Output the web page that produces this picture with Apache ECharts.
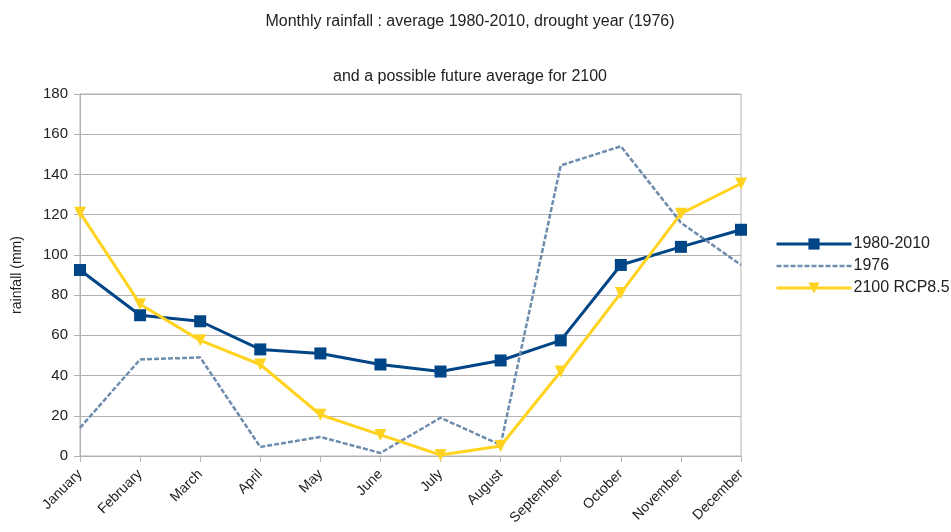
<!DOCTYPE html>
<html><head><meta charset="utf-8">
<script src="https://cdn.jsdelivr.net/npm/echarts@6/dist/echarts.min.js"></script>
<style>html,body{margin:0;padding:0;background:#fff}#c{width:951px;height:532px}</style>
</head><body><div id="c"></div>
<script>
const months = ['January','February','March','April','May','June','July','August','September','October','November','December'];
const avg19802010 = [92.5, 70, 67, 53, 51, 45.5, 42, 47.5, 57.5, 95, 104, 112.5];
const year1976 = [14, 48, 49, 4.5, 9.5, 1.5, 19, 5.5, 144.5, 154, 116, 95];
const rcp2100 = [121, 75.5, 57.5, 45.5, 20.5, 10.5, 0.5, 5, 42, 81, 120.5, 135.5];
const yTicks = {min: 0, max: 180, interval: 20};

const font = 'Liberation Sans, Arial, sans-serif';
const chart = echarts.init(document.getElementById('c'));
chart.setOption({
  animation: false,
  backgroundColor: '#fff',
  title: [
    {text: 'Monthly rainfall : average 1980-2010, drought year (1976)', left: 465, top: 9, textAlign: 'center',
     textStyle: {fontFamily: font, fontSize: 16, fontWeight: 'normal', color: '#222'}},
    {text: 'and a possible future average for 2100', left: 465, top: 64, textAlign: 'center',
     textStyle: {fontFamily: font, fontSize: 16, fontWeight: 'normal', color: '#222'}}
  ],
  grid: {left: 80, right: 210, top: 94, bottom: 76, show: true, borderColor: '#b3b3b3', borderWidth: 1},
  legend: {
    orient: 'vertical', left: 770, top: 231, itemGap: 6, itemWidth: 75, itemHeight: 14,
    lineStyle: {width: 3},
    textStyle: {fontFamily: font, fontSize: 16, color: '#222', padding: [0,0,0,-3]},
    data: [
      {name: '1980-2010'},
      {name: '1976', itemStyle: {color: 'rgba(0,0,0,0)', borderWidth: 0}, lineStyle: {width: 2.5}},
      {name: '2100 RCP8.5'}
    ]
  },
  xAxis: {
    type: 'category', data: months, boundaryGap: false,
    axisLine: {lineStyle: {color: '#b3b3b3', width: 1}},
    axisTick: {show: true, length: 6, lineStyle: {color: '#b3b3b3'}},
    axisLabel: {rotate: 45, fontFamily: font, fontSize: 14, color: '#222', margin: 16, interval: 0},
    splitLine: {show: false}
  },
  yAxis: {
    type: 'value', min: yTicks.min, max: yTicks.max, interval: yTicks.interval,
    name: 'rainfall (mm)', nameLocation: 'middle', nameGap: 56, nameRotate: 90,
    nameTextStyle: {fontFamily: font, fontSize: 14, color: '#222'},
    axisLine: {show: true, lineStyle: {color: '#b3b3b3'}},
    axisTick: {show: true, length: 6, lineStyle: {color: '#b3b3b3'}},
    axisLabel: {fontFamily: font, fontSize: 15, color: '#222', margin: 12},
    splitLine: {lineStyle: {color: '#b3b3b3', width: 1}}
  },
  series: [
    {name: '1980-2010', type: 'line', data: avg19802010, symbol: 'rect', symbolSize: 12,
     lineStyle: {color: '#004586', width: 3}, itemStyle: {color: '#004586'}},
    {name: '1976', type: 'line', data: year1976, symbol: 'none', showSymbol: false,
     lineStyle: {color: '#6e8cad', width: 2.5, type: [5, 2]}, itemStyle: {color: '#6e8cad'}},
    {name: '2100 RCP8.5', type: 'line', data: rcp2100, symbol: 'triangle', symbolRotate: 180, symbolSize: 12,
     lineStyle: {color: '#ffd320', width: 3}, itemStyle: {color: '#ffd320'}}
  ]
});
</script></body></html>
